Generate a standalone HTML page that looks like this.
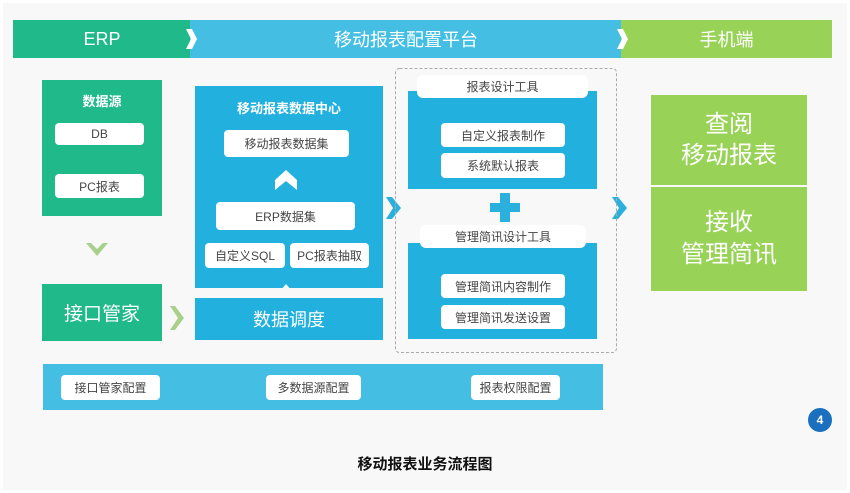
<!DOCTYPE html>
<html><head><meta charset="utf-8"><style>
body{margin:0;width:850px;height:493px;background:#fff;position:relative;overflow:hidden;font-family:"Liberation Sans","Noto Sans CJK SC",sans-serif}
.a{position:absolute;box-sizing:border-box}
.w{position:absolute;background:#fff;border-radius:4px;color:#444;font-size:12px;text-align:center;display:flex;align-items:center;justify-content:center}
.c{display:flex;align-items:center;justify-content:center;color:#fff}
</style></head><body>
<div class="a" style="left:3px;top:3px;width:844px;height:487px;background:#f8f8f9"></div>
<div class="a c" style="left:13px;top:20px;width:178px;height:38px;background:#20b98a;font-size:18px">ERP</div>
<div class="a c" style="left:190px;top:20px;width:432px;height:38px;background:#45bee3;font-size:18px">移动报表配置平台</div>
<div class="a c" style="left:621px;top:20px;width:211px;height:38px;background:#98d257;font-size:18px">手机端</div>
<div class="a" style="left:42px;top:80px;width:120px;height:136px;background:#20b98a"></div>
<div class="a c" style="left:42px;top:90px;width:120px;height:20px;font-size:13px;font-weight:bold">数据源</div>
<div class="w" style="left:55px;top:123px;width:89px;height:22px">DB</div>
<div class="w" style="left:55px;top:174px;width:89px;height:24px">PC报表</div>
<div class="a c" style="left:42px;top:284px;width:120px;height:57px;background:#20b98a;font-size:19px">接口管家</div>
<div class="a" style="left:195px;top:86px;width:188px;height:202px;background:#22b0df"></div>
<div class="a c" style="left:195px;top:97px;width:188px;height:20px;font-size:13px;font-weight:bold">移动报表数据中心</div>
<div class="w" style="left:224px;top:130px;width:125px;height:27px">移动报表数据集</div>
<div class="w" style="left:216px;top:202px;width:139px;height:28px">ERP数据集</div>
<div class="w" style="left:205px;top:243px;width:80px;height:25px">自定义SQL</div>
<div class="w" style="left:290px;top:243px;width:79px;height:25px">PC报表抽取</div>
<div class="a c" style="left:195px;top:298px;width:188px;height:42px;background:#22b0df;font-size:18px">数据调度</div>
<div class="a" style="left:408px;top:91px;width:189px;height:98px;background:#22b0df"></div>
<div class="w" style="left:417px;top:75px;width:171px;height:23px;border-radius:6px">报表设计工具</div>
<div class="w" style="left:441px;top:123px;width:124px;height:24px">自定义报表制作</div>
<div class="w" style="left:441px;top:153px;width:124px;height:25px">系统默认报表</div>
<div class="a" style="left:408px;top:243px;width:189px;height:96px;background:#22b0df"></div>
<div class="w" style="left:420px;top:225px;width:166px;height:23px;border-radius:6px">管理简讯设计工具</div>
<div class="w" style="left:441px;top:274px;width:124px;height:24px">管理简讯内容制作</div>
<div class="w" style="left:441px;top:305px;width:124px;height:24px">管理简讯发送设置</div>
<div class="a c" style="left:651px;top:95px;width:156px;height:90px;background:#98d257;font-size:24px;line-height:31px;text-align:center">查阅<br>移动报表</div>
<div class="a c" style="left:651px;top:187px;width:156px;height:104px;background:#98d257;font-size:24px;line-height:32px;text-align:center">接收<br>管理简讯</div>
<div class="a" style="left:43px;top:364px;width:560px;height:46px;background:#45bee3"></div>
<div class="w" style="left:61px;top:375px;width:99px;height:25px">接口管家配置</div>
<div class="w" style="left:266px;top:375px;width:95px;height:25px">多数据源配置</div>
<div class="w" style="left:471px;top:375px;width:89px;height:25px">报表权限配置</div>
<div class="a c" style="left:808px;top:408px;width:24px;height:24px;border-radius:50%;background:#1a6fbf;font-size:12px;font-weight:bold">4</div>
<div class="a" style="left:325px;top:453px;width:200px;text-align:center;font-size:15px;font-weight:bold;color:#111">移动报表业务流程图</div>
<svg class="a" style="left:0;top:0" width="850" height="493">
<path d="M186 29 L192 29 L197 39 L192 49 L186 49 L191 39Z" fill="#fff"/>
<path d="M617 29 L623 29 L628 39 L623 49 L617 49 L622 39Z" fill="#fff"/>
<path d="M91 243 L97 249 L103 243 L108 243 L97 256 L86 243Z" fill="#a9d08b"/>
<path d="M170 306 L175 306 L184 318 L175 330 L170 330 L178 318Z" fill="#a9d08b"/>
<path d="M386 197 L392 197 L401 208 L392 219 L386 219 L393 208Z" fill="#2bb0dd"/>
<path d="M612 197 L618 197 L627 208 L618 219 L612 219 L619 208Z" fill="#2bb0dd"/>
<path d="M275 180 L286 170 L297 180 L297 190 L286 181 L275 190Z" fill="#fff"/>
<path d="M274 298 L286 284 L298 298Z" fill="#f8f8f9"/>
<rect x="500" y="193" width="10" height="29" fill="#2bb0dd"/><rect x="490" y="203" width="30" height="9" fill="#2bb0dd"/>
<rect x="395.5" y="68.5" width="221" height="284" rx="4" fill="none" stroke="#aaa" stroke-dasharray="3,2"/>
</svg>
</body></html>
